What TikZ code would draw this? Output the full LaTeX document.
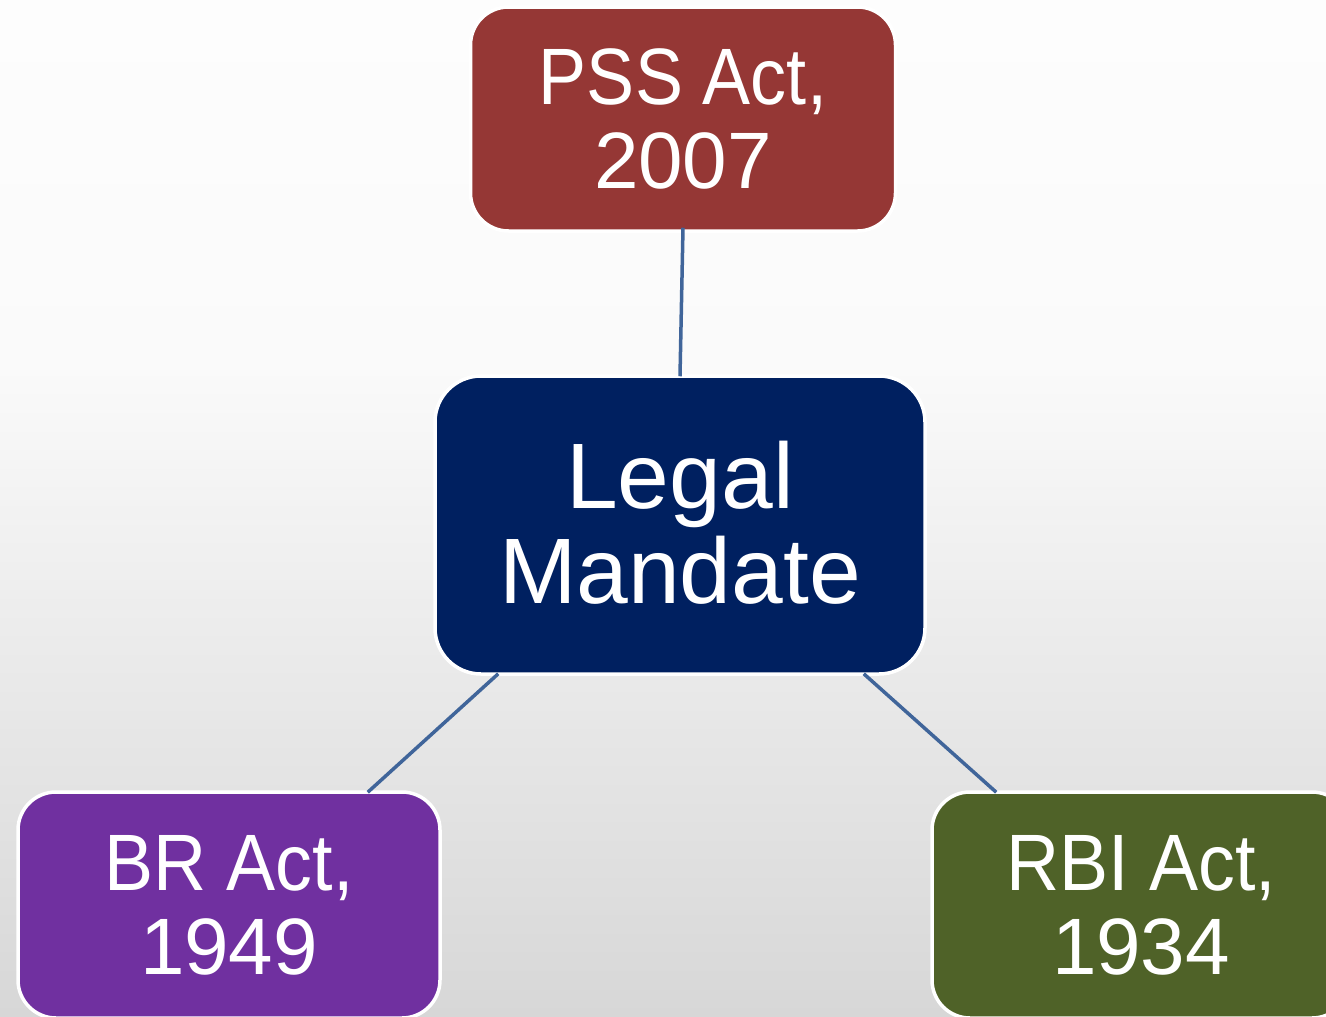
\documentclass[tikz,border=0pt]{standalone}
\usepackage{fontspec}
\setmainfont{Liberation Sans}
\usetikzlibrary{calc}

\definecolor{pssred}{RGB}{149,55,53}
\definecolor{navy}{RGB}{0,32,96}
\definecolor{brpurple}{RGB}{112,48,160}
\definecolor{rbigreen}{RGB}{79,98,40}
\definecolor{linkblue}{RGB}{64,101,154}
\definecolor{bgtop}{RGB}{253,253,253}
\definecolor{bgmid}{RGB}{250,250,250}
\definecolor{bgbot}{RGB}{215,215,215}

% vertical page shading: flat near-white top, greying towards the bottom
\pgfdeclareverticalshading{pagebg}{100bp}{%
  color(0bp)=(bgbot); color(25bp)=(bgbot); color(57bp)=(bgmid);
  color(75bp)=(bgtop); color(100bp)=(bgtop)}

\begin{document}
\begin{tikzpicture}[x=1pt,y=-1pt,
  actbox/.style={rectangle, rounded corners=38pt, draw=white, line width=3.5pt,
    text=white, align=center, inner sep=0pt,
    font=\fontsize{80}{84}\selectfont},
  hubbox/.style={actbox, rounded corners=46pt,
    font=\fontsize{93}{95}\selectfont},
  link/.style={draw=linkblue, line width=3.5pt}]

\useasboundingbox (0,0) rectangle (1326,1017);
\clip (0,0) rectangle (1326,1017);
\shade[shading=pagebg] (0,0) rectangle (1326,1017);

% central node and the three acts
\node[hubbox, fill=navy, minimum width=490pt, minimum height=298pt]
  (legal) at (680,525) {\raisebox{5pt}{Legal}\\\raisebox{5pt}{Mandate}};
\node[actbox, fill=pssred, minimum width=425pt, minimum height=224pt]
  (pss) at (683,119) {\scalebox{0.9}[1]{PSS Act,}\\2007};
\node[actbox, fill=brpurple, minimum width=422pt, minimum height=226pt]
  (br) at (229,905) {\scalebox{0.92}[1]{BR Act,}\\1949};
\node[actbox, fill=rbigreen, minimum width=418pt, minimum height=226pt]
  (rbi) at (1141,905) {\scalebox{0.92}[1]{RBI Act,}\\1934};

% connectors
\draw[link] ([yshift=5pt]pss.south) -- ([yshift=-2pt]legal.north);
\draw[link] ([xshift=65pt,yshift=2pt]legal.south west) -- ([xshift=-74pt,yshift=-2pt]br.north east);
\draw[link] ([xshift=-63pt,yshift=2pt]legal.south east) -- ([xshift=66pt,yshift=-2pt]rbi.north west);
\end{tikzpicture}
\end{document}
